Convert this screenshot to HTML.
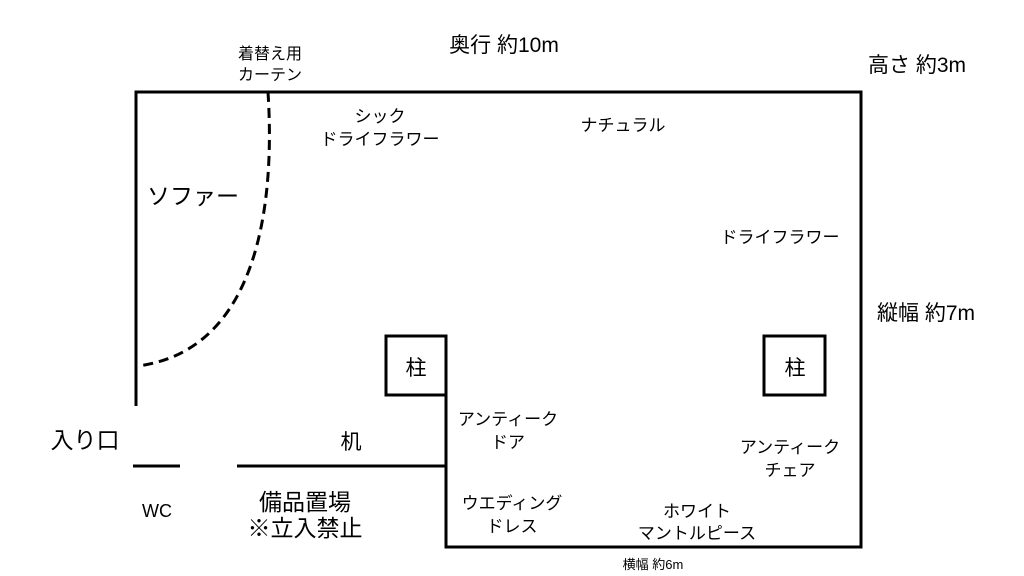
<!DOCTYPE html>
<html><head><meta charset="utf-8"><style>
body{margin:0;background:#fff;}
svg{display:block;font-family:"Liberation Sans","Noto Sans CJK JP",sans-serif;}
</style></head><body>
<svg width="1024" height="576" viewBox="0 0 1024 576">
<g stroke="#000" stroke-width="3" fill="none">
<path d="M136,406 V92 H861 V547 H446 V336"/>
<rect x="386" y="336" width="60" height="59"/>
<rect x="764" y="336" width="61" height="59"/>
<path d="M133,466 H180 M237,466 H446"/>
<path d="M268,92 C275,200 260,350 138,366" stroke-dasharray="10,6"/>
</g>
<g fill="#000" font-size="17" text-anchor="middle">
<text x="504" y="52" font-size="21">奥行 約10m</text>
<text x="917" y="72" font-size="21">高さ 約3m</text>
<text x="926" y="320" font-size="21">縦幅 約7m</text>
<text x="270" y="59" font-size="16">着替え用</text>
<text x="270" y="80" font-size="16">カーテン</text>
<text x="380" y="122">シック</text>
<text x="380" y="145">ドライフラワー</text>
<text x="623" y="131">ナチュラル</text>
<text x="780" y="243">ドライフラワー</text>
<text x="193" y="204" font-size="23">ソファー</text>
<text x="416" y="375" font-size="21">柱</text>
<text x="795" y="375" font-size="21">柱</text>
<text x="85" y="448" font-size="23">入り口</text>
<text x="351" y="449" font-size="21">机</text>
<text x="157" y="517" font-size="18">WC</text>
<text x="305" y="510" font-size="23">備品置場</text>
<text x="305" y="536" font-size="23">※立入禁止</text>
<text x="508" y="425">アンティーク</text>
<text x="508" y="448">ドア</text>
<text x="512" y="509">ウエディング</text>
<text x="512" y="532">ドレス</text>
<text x="790" y="453">アンティーク</text>
<text x="790" y="476">チェア</text>
<text x="697" y="517">ホワイト</text>
<text x="697" y="539">マントルピース</text>
<text x="653" y="569" font-size="13">横幅 約6m</text>
</g>
</svg>
</body></html>
